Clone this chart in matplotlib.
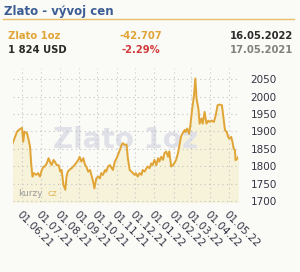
#!/usr/bin/env python3
"""
Zlato - vyvoj cen (gold 1oz, one year)
"""

import pandas as pd
import matplotlib
matplotlib.use("Agg")
import matplotlib.pyplot as plt
import matplotlib.dates as mdates

# price points (USD)
dates = [
    "2021-05-17", "2021-05-21", "2021-05-24", "2021-05-29", "2021-06-01", "2021-06-03",
    "2021-06-05", "2021-06-09", "2021-06-11", "2021-06-14", "2021-06-16", "2021-06-18",
    "2021-06-20", "2021-06-24", "2021-06-27", "2021-06-30", "2021-07-03", "2021-07-06",
    "2021-07-08", "2021-07-11", "2021-07-14", "2021-07-16", "2021-07-19", "2021-07-22",
    "2021-07-24", "2021-07-27", "2021-07-30", "2021-08-02", "2021-08-04", "2021-08-07",
    "2021-08-10", "2021-08-12", "2021-08-14", "2021-08-17", "2021-08-20", "2021-08-25",
    "2021-08-31", "2021-09-02", "2021-09-05", "2021-09-08", "2021-09-11", "2021-09-13",
    "2021-09-16", "2021-09-19", "2021-09-21", "2021-09-24", "2021-09-26", "2021-09-29",
    "2021-10-02", "2021-10-05", "2021-10-07", "2021-10-10", "2021-10-13", "2021-10-15",
    "2021-10-18", "2021-10-21", "2021-10-24", "2021-10-26", "2021-10-29", "2021-11-01",
    "2021-11-03", "2021-11-06", "2021-11-09", "2021-11-11", "2021-11-14", "2021-11-17",
    "2021-11-19", "2021-11-22", "2021-11-27", "2021-11-30", "2021-12-02", "2021-12-05",
    "2021-12-08", "2021-12-11", "2021-12-13", "2021-12-16", "2021-12-19", "2021-12-21",
    "2021-12-24", "2021-12-27", "2021-12-29", "2022-01-01", "2022-01-04", "2022-01-07",
    "2022-01-09", "2022-01-12", "2022-01-15", "2022-01-17", "2022-01-20", "2022-01-23",
    "2022-01-25", "2022-01-28", "2022-01-31", "2022-02-02", "2022-02-05", "2022-02-08",
    "2022-02-11", "2022-02-13", "2022-02-16", "2022-02-19", "2022-02-20", "2022-02-23",
    "2022-02-26", "2022-02-28", "2022-03-03", "2022-03-06", "2022-03-08", "2022-03-10",
    "2022-03-13", "2022-03-15", "2022-03-18", "2022-03-20", "2022-03-23", "2022-03-26",
    "2022-03-29", "2022-03-31", "2022-04-03", "2022-04-07", "2022-04-10", "2022-04-13",
    "2022-04-16", "2022-04-20", "2022-04-22", "2022-04-25", "2022-04-28", "2022-04-30",
    "2022-05-02", "2022-05-05", "2022-05-07", "2022-05-09", "2022-05-11", "2022-05-12",
    "2022-05-15", "2022-05-16",
]
prices = [
    1866, 1885, 1899, 1907, 1910, 1870,
    1899, 1895, 1881, 1856, 1803, 1770,
    1780, 1775, 1780, 1770, 1789, 1799,
    1799, 1808, 1823, 1813, 1803, 1818,
    1813, 1803, 1803, 1784, 1789, 1746,
    1732, 1770, 1784, 1790, 1794, 1803,
    1818, 1827, 1813, 1823, 1803, 1799,
    1784, 1789, 1775, 1755, 1736, 1765,
    1770, 1765, 1780, 1775, 1789, 1784,
    1799, 1803, 1794, 1789, 1813, 1823,
    1832, 1846, 1861, 1866, 1861, 1862,
    1823, 1789, 1780, 1775, 1780, 1770,
    1780, 1775, 1789, 1784, 1794, 1799,
    1794, 1808, 1803, 1818, 1803, 1823,
    1813, 1827, 1818, 1837, 1842, 1827,
    1842, 1799, 1803, 1808, 1818, 1837,
    1866, 1885, 1896, 1904, 1898, 1908,
    1893, 1917, 1965, 2004, 2052, 1994,
    1965, 1922, 1937, 1922, 1956, 1922,
    1931, 1927, 1931, 1927, 1946, 1975,
    1977, 1975, 1946, 1903, 1898, 1884,
    1879, 1884, 1870, 1850, 1846, 1817,
    1822, 1826,
]
yticks = [1700, 1750, 1800, 1850, 1900, 1950, 2000, 2050]
month_ticks = pd.date_range("2021-06-01", "2022-05-01", freq="MS")

W, H = 300, 272
BG = "#fafaf6"
GOLD = "#e0a437"


def fx(px):
    return px / W


def fy(py):
    return 1 - py / H


t = pd.to_datetime(dates)

fig = plt.figure(figsize=(3.0, 2.72), dpi=100, facecolor=BG)

# header
fig.text(fx(4), fy(12), "Zlato - vývoj cen", fontsize=8.5, fontweight="bold",
         color="#3c5d93", va="center", ha="left")
fig.add_artist(plt.Line2D([fx(3), fx(294)], [fy(19), fy(19)], color="#e8c068", lw=1.0))
fig.text(fx(8), fy(36), "Zlato 1oz", fontsize=7.2, fontweight="bold", color=GOLD, va="center")
fig.text(fx(120), fy(36), "-42.707", fontsize=7.2, fontweight="bold", color=GOLD, va="center")
fig.text(fx(293), fy(36), "16.05.2022", fontsize=7.2, fontweight="bold", color="#2a2a2a",
         va="center", ha="right")
fig.text(fx(8), fy(50), "1 824 USD", fontsize=7.2, fontweight="bold", color="#2a2a2a", va="center")
fig.text(fx(121), fy(50), "-2.29%", fontsize=7.2, fontweight="bold", color="#d23b3b", va="center")
fig.text(fx(293), fy(50), "17.05.2021", fontsize=7.2, fontweight="bold", color="#808080",
         va="center", ha="right")

# plot area
ax = fig.add_axes([fx(12.7), fy(202), fx(238) - fx(12.7), fy(68) - fy(202)])
ax.set_facecolor(BG)
ax.set_xlim(pd.Timestamp("2021-05-17"), pd.Timestamp("2022-05-16"))
ax.set_ylim(1697, 2082)

ax.text(0.5, 0.46, "Zlato 1oz", transform=ax.transAxes, fontsize=20, fontweight="bold",
        color="#e0e1e8", ha="center", va="center", zorder=1)
ax.text(0.025, 0.03, "kurzy", transform=ax.transAxes, fontsize=6.5, color="#9a9a9a",
        ha="left", va="bottom", zorder=1)
ax.text(0.155, 0.03, "cz", transform=ax.transAxes, fontsize=6.5, color="#e2b85a",
        ha="left", va="bottom", zorder=1)

ax.fill_between(t, prices, 1690, color="#f6f3da", zorder=0)
ax.plot(t, prices, color=GOLD, lw=1.4, zorder=3)

ax.set_yticks(yticks)
ax.yaxis.tick_right()
ax.set_xticks(month_ticks)
ax.xaxis.set_major_formatter(mdates.DateFormatter("%d.%m.%y"))
ax.grid(True, color="#c4c4c4", lw=0.8, linestyle=(0, (1, 3)), zorder=2)
ax.tick_params(axis="y", length=0, pad=9, labelsize=7.5, labelcolor="#333344")
ax.tick_params(axis="x", length=0, pad=5, labelsize=7.5, labelcolor="#333344")
for lab in ax.get_xticklabels():
    lab.set_rotation(-45)
    lab.set_rotation_mode("anchor")
    lab.set_ha("left")
    lab.set_va("top")
for s in ax.spines.values():
    s.set_visible(False)

fig.savefig("out.png", dpi=100, facecolor=BG)
